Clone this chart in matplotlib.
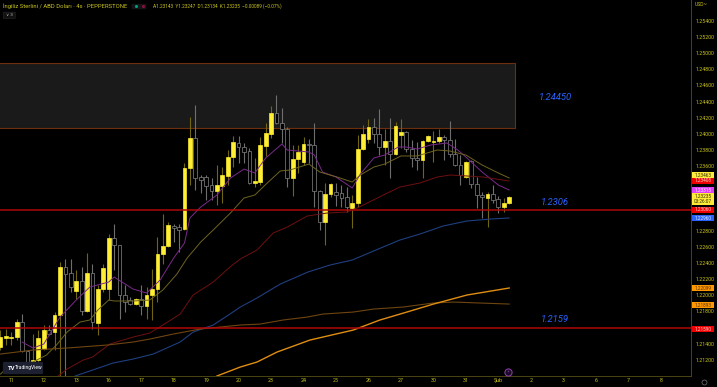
"""GBP/USD 4 saatlik mum grafigi, hareketli ortalamalar ve seviye cizgileri."""

import matplotlib

matplotlib.use("Agg")

import matplotlib.pyplot as plt
from matplotlib.lines import Line2D
from matplotlib.patches import FancyBboxPatch, Rectangle

plt.rcParams["font.family"] = ["Roboto", "DejaVu Sans"]

opens = [1.21357, 1.21469, 1.21475, 1.21481, 1.21667, 1.21308, 1.21146, 1.21196, 1.21332, 1.21568,
         1.21543, 1.21754, 1.22349, 1.22275, 1.22052, 1.22176, 1.21804, 1.22275, 1.21655, 1.22076,
         1.22076, 1.22709, 1.22622, 1.22002, 1.21940, 1.21890, 1.21952, 1.21866, 1.22002, 1.22076,
         1.22510, 1.22610, 1.22858, 1.22845, 1.22820, 1.23577, 1.23949, 1.23465, 1.23465, 1.23366,
         1.23292, 1.23354, 1.23478, 1.23713, 1.23887, 1.23837, 1.23788, 1.23391, 1.23403, 1.23850,
         1.23998, 1.24259, 1.24135, 1.24060, 1.23453, 1.23688, 1.23651, 1.23874, 1.23862, 1.23292,
         1.22907, 1.23254, 1.23279, 1.23267, 1.23217, 1.23081, 1.23143, 1.23812, 1.23936, 1.24085,
         1.23998, 1.23837, 1.23912, 1.23750, 1.23986, 1.24023, 1.23812, 1.23701, 1.23676, 1.23912,
         1.23899, 1.23912, 1.23961, 1.23924, 1.23750, 1.23614, 1.23465, 1.23664, 1.23378, 1.23242,
         1.23205, 1.23254, 1.23192, 1.23093, 1.23143]
highs = [1.21568, 1.21580, 1.21543, 1.21704, 1.21766, 1.21320, 1.21518, 1.21568, 1.21630, 1.21630,
         1.21791, 1.22411, 1.22448, 1.22448, 1.22312, 1.22349, 1.22523, 1.22386, 1.22126, 1.22386,
         1.22758, 1.22882, 1.22622, 1.22126, 1.21977, 1.21965, 1.22126, 1.22101, 1.22324, 1.22721,
         1.23006, 1.22907, 1.22882, 1.22882, 1.23639, 1.24209, 1.24358, 1.23490, 1.23490, 1.23453,
         1.23614, 1.23589, 1.23800, 1.23974, 1.23974, 1.23887, 1.23825, 1.23701, 1.23961, 1.24135,
         1.24346, 1.24482, 1.24321, 1.24085, 1.23862, 1.23862, 1.23961, 1.23936, 1.24135, 1.23304,
         1.23391, 1.23391, 1.23391, 1.23366, 1.23341, 1.23242, 1.23986, 1.24110, 1.24184, 1.24197,
         1.24308, 1.24060, 1.24197, 1.24147, 1.24184, 1.24036, 1.23924, 1.23899, 1.23924, 1.23986,
         1.24036, 1.24060, 1.23986, 1.24160, 1.23936, 1.23738, 1.23664, 1.23676, 1.23465, 1.23279,
         1.23279, 1.23366, 1.23230, 1.23205, 1.23230]
lows = [1.21320, 1.21382, 1.21382, 1.21444, 1.21295, 1.21109, 1.21072, 1.21146, 1.21320, 1.21512,
        1.21320, 1.20985, 1.20985, 1.22039, 1.21952, 1.21754, 1.21791, 1.21580, 1.21506, 1.22039,
        1.21940, 1.22312, 1.21704, 1.21791, 1.21878, 1.21884, 1.21754, 1.21704, 1.21692, 1.21915,
        1.22386, 1.22597, 1.22659, 1.22535, 1.22808, 1.23366, 1.23304, 1.23267, 1.23180, 1.23180,
        1.23118, 1.23143, 1.23366, 1.23589, 1.23639, 1.23639, 1.23378, 1.23341, 1.23366, 1.23726,
        1.23949, 1.24122, 1.23887, 1.23341, 1.23230, 1.23515, 1.23614, 1.23639, 1.23093, 1.22808,
        1.22622, 1.23217, 1.23106, 1.23093, 1.23031, 1.22833, 1.23093, 1.23800, 1.23887, 1.23887,
        1.23738, 1.23614, 1.23453, 1.23738, 1.23825, 1.23775, 1.23589, 1.23552, 1.23453, 1.23899,
        1.23651, 1.23887, 1.23676, 1.23713, 1.23602, 1.23366, 1.23453, 1.23329, 1.23081, 1.22957,
        1.22845, 1.23143, 1.23019, 1.23031, 1.23130]
closes = [1.21481, 1.21494, 1.21487, 1.21667, 1.21308, 1.21146, 1.21196, 1.21469, 1.21568, 1.21518,
          1.21754, 1.22349, 1.22262, 1.22101, 1.22176, 1.21804, 1.22275, 1.21667, 1.22076, 1.22337,
          1.22709, 1.22622, 1.22002, 1.21915, 1.21890, 1.21952, 1.21866, 1.22002, 1.22076, 1.22510,
          1.22610, 1.22870, 1.22833, 1.22808, 1.23577, 1.23949, 1.23453, 1.23428, 1.23354, 1.23292,
          1.23366, 1.23490, 1.23713, 1.23899, 1.23837, 1.23775, 1.23391, 1.23416, 1.23862, 1.24011,
          1.24259, 1.24135, 1.24060, 1.23453, 1.23688, 1.23775, 1.23874, 1.23862, 1.23292, 1.22907,
          1.23254, 1.23378, 1.23242, 1.23205, 1.23093, 1.23143, 1.23812, 1.23998, 1.24085, 1.23998,
          1.23837, 1.23912, 1.23750, 1.24098, 1.24023, 1.23812, 1.23701, 1.23676, 1.23912, 1.23974,
          1.23912, 1.23961, 1.23924, 1.23750, 1.23614, 1.23490, 1.23651, 1.23378, 1.23242, 1.23217,
          1.23254, 1.23180, 1.23093, 1.23143, 1.23217]

# hareketli ortalamalar: (mum sirasi, fiyat)
purple_idx = [4, 6, 8, 11, 14, 16.5, 20, 21, 24.5, 27, 29.5, 32, 34, 35, 37, 40, 42.5, 45, 47, 49,
              52, 53, 57, 58, 59.5, 62, 65, 66.5, 69, 71, 73.5, 75, 77, 79.5, 82.5, 84.5, 86, 89, 92, 94]
purple_val = [1.21419, 1.21345, 1.21394, 1.21729, 1.21940, 1.22101, 1.22163, 1.22225, 1.22076, 1.22027,
              1.22188, 1.22461, 1.22647, 1.22957, 1.23093, 1.23242, 1.23453, 1.23564, 1.23515, 1.23701,
              1.23874, 1.23800, 1.23775, 1.23738, 1.23527, 1.23465, 1.23329, 1.23502, 1.23701, 1.23738,
              1.23837, 1.23837, 1.23812, 1.23862, 1.23887, 1.23800, 1.23713, 1.23527, 1.23366, 1.23304]
olive_idx = [0, 2, 6, 8.5, 10.5, 12.3, 14.7, 16.5, 18, 20, 21, 24.5, 27.6, 30, 32.6, 34.5, 37, 39.3, 42.5,
             45, 47, 49.3, 51.7, 53.5, 57, 59, 62.2, 65, 66.5, 69, 71, 74, 77, 80.7, 83, 86, 89, 92, 94]
olive_val = [1.21022, 1.21146, 1.21171, 1.21258, 1.21394, 1.21543, 1.21667, 1.21692, 1.21816, 1.21940,
             1.21928, 1.21928, 1.21940, 1.22064, 1.22262, 1.22461, 1.22659, 1.22808, 1.23019,
             1.23205, 1.23242, 1.23391, 1.23540, 1.23552, 1.23626, 1.23527, 1.23465, 1.23403, 1.23490,
             1.23589, 1.23626, 1.23726, 1.23726, 1.23800, 1.23788, 1.23738, 1.23614, 1.23515, 1.23453]
red_idx = [10.4, 12.3, 15.3, 17, 20.2, 24.5, 27.6, 30, 33.2, 35.6, 39.3, 42.4, 44.3, 47.4, 50.4, 53, 56.7,
           60.4, 64, 65.9, 68.9, 71.5, 73.8, 77.5, 80.7, 83.1, 86.2, 89.2, 94]
red_val = [1.20985, 1.21084, 1.21196, 1.21233, 1.21394, 1.21481, 1.21531, 1.21630, 1.21766, 1.22002,
           1.22163, 1.22349, 1.22448, 1.22560, 1.22771, 1.22845, 1.22982, 1.23019, 1.23031, 1.23081,
           1.23180, 1.23267, 1.23341, 1.23391, 1.23465, 1.23490, 1.23478, 1.23465, 1.23416]
blue_idx = [13.8, 16.5, 20.8, 24.5, 28.2, 33.2, 35.6, 39.3, 42.4, 44.3, 47.4, 51.7, 56.8, 60.9, 65, 69.8,
            73.8, 77.5, 81.8, 86.2, 90.5, 94]
blue_val = [1.20998, 1.21060, 1.21159, 1.21208, 1.21270, 1.21419, 1.21543, 1.21630, 1.21766, 1.21853,
            1.21965, 1.22138, 1.22287, 1.22374, 1.22436, 1.22572, 1.22684, 1.22758, 1.22858, 1.22920,
            1.22944, 1.22957]
brown_idx = [0, 6, 12.3, 19.7, 24.5, 27.6, 31.9, 36.9, 44.3, 48, 52.2, 56.7, 59.6, 65.2, 68.9, 74.4, 80,
             83.7, 88.6, 94]
brown_val = [1.21270, 1.21320, 1.21345, 1.21382, 1.21419, 1.21456, 1.21518, 1.21580, 1.21630, 1.21642,
             1.21692, 1.21729, 1.21766, 1.21791, 1.21828, 1.21853, 1.21903, 1.21915, 1.21903, 1.21890]
orange_idx = [40, 44.3, 47.4, 51.1, 57.2, 65.2, 70.1, 75.1, 80, 86.2, 94]
orange_val = [1.20998, 1.21109, 1.21171, 1.21295, 1.21444, 1.21568, 1.21692, 1.21791, 1.21890, 1.22002, 1.22089]

level_values = [1.2306, 1.2159]
level_labels = ["1.24450", "1.2306", "1.2159"]
level_label_prices = [1.24450, 1.23150, 1.21700]
zone_low, zone_high = 1.2407, 1.2488

date_ticks = [2, 8, 14, 20, 26, 32, 38, 44, 50, 56, 62, 68, 74, 80, 86, 92, 98, 104, 110, 116, 122]
date_labels = ["11", "12", "13", "16", "17", "18", "19", "20", "23", "24", "25", "26", "27", "30", "31",
               "Şub", "2", "3", "6", "7", "8"]
price_ticks = [1.212, 1.214, 1.218, 1.220, 1.222, 1.224, 1.226, 1.228, 1.236,
               1.238, 1.240, 1.242, 1.244, 1.246, 1.248, 1.250, 1.252, 1.254]

tag_prices = [1.23490, 1.23416, 1.23304, 1.23192, 1.23060, 1.22951, 1.22089, 1.21878, 1.21580]
tag_texts = ["1.23463", "1.23408", "1.23315", "1.23235\n03:26:07", "1.23060", "1.22960", "1.22099", "1.21893",
             "1.21590"]
tag_colors = ["#ffeb3b", "#f00000", "#e040fb", "#ffeb3b", "#f00000", "#2962ff", "#ff9800", "#ff9800", "#f00000"]
tag_text_colors = ["#333300", "#ffd0d0", "#ffe0ff", "#333300", "#ffd0d0", "#e0e8ff", "#553300", "#553300",
                   "#ffd0d0"]

TEXT = "#c9c41f"
AXIS = "#4a4510"

fig = plt.figure(figsize=(7.17, 3.87), dpi=100, facecolor="black")
ax = fig.add_axes([0, 11 / 387, 691 / 717, 376 / 387], facecolor="black")
ax.set_xlim(-0.09, 127.6)
ax.set_ylim(1.20998, 1.2566)

ax.add_patch(Rectangle((-1, zone_low), 96.0, zone_high - zone_low, facecolor="#1a1a1a",
                       edgecolor="#6b2f0d", lw=0.8, zorder=1))

for i in range(len(opens)):
    up = closes[i] >= opens[i]
    ax.vlines(i, lows[i], highs[i], color="#6f6512" if up else "#6e6e6e", lw=0.8, zorder=3)
    bottom = min(opens[i], closes[i])
    ax.bar(i, abs(closes[i] - opens[i]), bottom=bottom, width=0.7,
           facecolor="#ffee33" if up else "black", edgecolor="#ffee33" if up else "#858585",
           lw=0.5, zorder=4)

ax.plot(purple_idx, purple_val, color="#7a2a8c", lw=0.7, zorder=5)
ax.plot(olive_idx, olive_val, color="#6e6420", lw=0.7, zorder=5)
ax.plot(red_idx, red_val, color="#6e1010", lw=0.7, zorder=5)
ax.plot(blue_idx, blue_val, color="#1f3f80", lw=0.8, zorder=5)
ax.plot(brown_idx, brown_val, color="#6e4510", lw=0.8, zorder=5)
ax.plot(orange_idx, orange_val, color="#e08e12", lw=1.0, zorder=5)

for value in level_values:
    ax.axhline(value, color="#b00808", lw=1.1, zorder=6)
for value, label in zip(level_label_prices, level_labels):
    ax.text(102.5, value, label, color="#2962ff", fontsize=6.8, style="italic", ha="center", va="center")

for side in ["top", "left"]:
    ax.spines[side].set_visible(False)
for side in ["right", "bottom"]:
    ax.spines[side].set_color(AXIS)
    ax.spines[side].set_linewidth(0.7)

ax.set_xticks(date_ticks, date_labels)
ax.yaxis.tick_right()
ax.set_yticks(price_ticks, [f"{v:.5f}" for v in price_ticks])
ax.tick_params(axis="x", length=0, pad=1.2, labelsize=3.8, labelcolor=TEXT)
ax.tick_params(axis="y", length=0, pad=3.2, labelsize=3.8, labelcolor=TEXT)

# fiyat etiketleri
label_tf = ax.get_yaxis_transform()
tag_h = (1.2566 - 1.20998) * 6 / 376
for value, text, color, text_color in zip(tag_prices, tag_texts, tag_colors, tag_text_colors):
    h = tag_h * 2 if "\n" in text else tag_h
    ax.add_patch(Rectangle((1.0015, value - h / 2), 0.032, h, transform=label_tf, facecolor=color,
                           edgecolor="none", clip_on=False, zorder=9))
    ax.text(1.0175, value, text, transform=label_tf, fontsize=3.4, color=text_color, ha="center", va="center",
            linespacing=1.1, clip_on=False, zorder=10)

# ust bilgi satiri
fig.text(3 / 717, 1 - 6.5 / 387, "İngiliz Sterlini / ABD Doları · 4s · PEPPERSTONE", color=TEXT, fontsize=4.2,
         va="center")
fig.text(153 / 717, 1 - 6.5 / 387, "A1.23143  Y1.23247  D1.23134  K1.23235  −0.00089 (−0.07%)", color=TEXT,
         fontsize=3.4, va="center")
fig.add_artist(FancyBboxPatch((133 / 717, 1 - 8.5 / 387), 12 / 717, 4 / 387, boxstyle="round,pad=0.002",
                              facecolor="#141414", edgecolor="none", transform=fig.transFigure))
fig.add_artist(Line2D([136 / 717], [1 - 6 / 387], marker="o", ms=2.2, mfc="#00a08a", mec="none",
                      transform=fig.transFigure))
fig.add_artist(Line2D([142.5 / 717], [1 - 6 / 387], marker="o", ms=2.2, mfc="#8a1040", mec="none",
                      transform=fig.transFigure))
fig.add_artist(FancyBboxPatch((4 / 717, 1 - 18 / 387), 10.5 / 717, 5.5 / 387, boxstyle="round,pad=0.001",
                              facecolor="#111111", edgecolor="#2a2a2a", lw=0.4, transform=fig.transFigure))
fig.text(9.2 / 717, 1 - 15 / 387, "∨ 3", color="#bbbbbb", fontsize=3.2, ha="center", va="center")
fig.text(695 / 717, 1 - 5 / 387, "USD~", color=TEXT, fontsize=3.6, va="center")

# TradingView rozeti
fig.add_artist(FancyBboxPatch((5 / 717, 1 - 373 / 387), 36 / 717, 10 / 387, boxstyle="round,pad=0.003",
                              facecolor="#1c2030", edgecolor="none", transform=fig.transFigure, zorder=8))
fig.text(8 / 717, 1 - 368 / 387, "TV", color="white", fontsize=4.2, fontweight="bold", va="center", zorder=9)
fig.text(15 / 717, 1 - 368 / 387, "TradingView", color="white", fontsize=3.6, va="center", zorder=9)

# olay isareti ve ayar simgesi
fig.add_artist(Line2D([508 / 717], [1 - 372 / 387], marker="o", ms=5.2, mfc="#1a0a24", mec="#8e44ad", mew=0.7,
                      transform=fig.transFigure))
fig.text(508 / 717, 1 - 372 / 387, "⚡", color="#8e44ad", fontsize=3, ha="center", va="center",
         family=["DejaVu Sans"])
fig.add_artist(Line2D([704 / 717], [1 - 382 / 387], marker="o", ms=3.6, mfc="none", mec="#777777", mew=0.5,
                      transform=fig.transFigure))

fig.savefig("out.png", dpi=100, facecolor="black")
plt.close(fig)
